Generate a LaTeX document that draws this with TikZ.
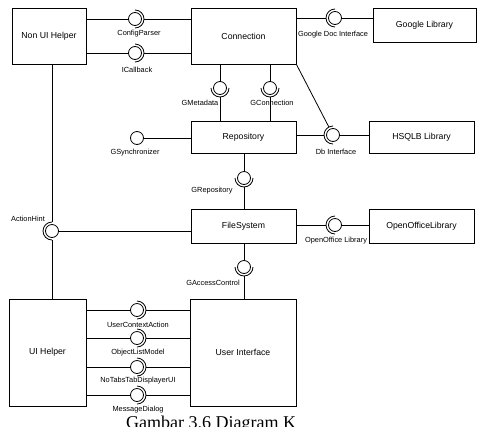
\documentclass[tikz,border=0pt]{standalone}
\usepackage{fontspec}
\setmainfont{Liberation Sans}
\newfontfamily\capfont{Liberation Serif}
\usetikzlibrary{calc}
\newcommand\sockarc[2]{\draw[wire] ($(#1)+({#2-90}:9)$) arc[start angle={#2-90}, end angle={#2+90}, radius=9];}
\begin{document}
\begin{tikzpicture}[x=1pt,y=-1pt,
  comp/.style={draw, line width=0.9pt, inner sep=0pt, font=\fontsize{8.7}{10}\selectfont},
  ball/.style={draw, circle, line width=0.8pt, minimum size=13pt, inner sep=0pt},
  sock/.style={circle, minimum size=18pt, inner sep=0pt},
  lbl/.style={font=\fontsize{7.4}{8}\selectfont, inner sep=0pt},
  wire/.style={line width=0.8pt}]
\path[use as bounding box, clip] (0,0) rectangle (478,426);
\fill[white] (0,0) rectangle (478,426);

% components
\node[comp, minimum width=74pt, minimum height=56pt] (nuh) at (49,36) {Non UI Helper};
\node[comp, minimum width=105pt, minimum height=56pt] (conn) at (243.5,36) {Connection};
\node[comp, minimum width=103pt, minimum height=34pt] (google) at (424.5,25) {Google Library};
\node[comp, minimum width=105pt, minimum height=32pt] (repo) at (243.5,137) {Repository};
\node[comp, minimum width=105pt, minimum height=32pt] (hsqlb) at (421.5,137) {HSQLB Library};
\node[comp, minimum width=105pt, minimum height=34pt] (fs) at (243.5,226) {FileSystem};
\node[comp, minimum width=105pt, minimum height=34pt] (ool) at (421.5,226) {OpenOfficeLibrary};
\node[comp, minimum width=77pt, minimum height=107pt] (uih) at (47.5,352.5) {UI Helper};
\node[comp, minimum width=106pt, minimum height=107pt] (ui) at (243,352.5) {User Interface};

% ConfigParser
\node[ball] (cpb) at (135,19) {}; \node[sock] (cps) at (135,19) {};
\sockarc{cps}{0}
\draw[wire] (nuh.east |- cpb) -- (cpb.west);
\draw[wire] (cps.east) -- (conn.west |- cps);
\node[lbl] (cpl) at (139,34) {ConfigParser};

% ICallback
\node[ball] (icb) at (135,53) {}; \node[sock] (ics) at (135,53) {};
\sockarc{ics}{0}
\draw[wire] (nuh.east |- icb) -- (icb.west);
\draw[wire] (ics.east) -- (conn.west |- ics);
\node[lbl] (icl) at (137,70) {ICallback};

% Google Doc Interface
\node[ball] (gdb) at (335,18) {}; \node[sock] (gds) at (335,18) {};
\sockarc{gds}{180}
\draw[wire] (conn.east |- gds) -- (gds.west);
\draw[wire] (gdb.east) -- (google.west |- gdb);
\node[lbl] (gdl) at (333,35) {Google Doc Interface};

% GMetadata
\node[ball] (gmb) at (220,88) {}; \node[sock] (gms) at (220,88) {};
\sockarc{gms}{90}
\draw[wire] (conn.south -| gmb) -- (gmb.north);
\draw[wire] (gms.south) -- (repo.north -| gms);
\node[lbl] (gml) at (200,103) {GMetadata};

% GConnection
\node[ball] (gcb) at (270,88) {}; \node[sock] (gcs) at (270,88) {};
\sockarc{gcs}{90}
\draw[wire] (conn.south -| gcb) -- (gcb.north);
\draw[wire] (gcs.south) -- (repo.north -| gcs);
\node[lbl] (gcl) at (272,103) {GConnection};

% Db Interface
\node[ball] (dbb) at (333,135) {}; \node[sock] (dbs) at (333,135) {};
\sockarc{dbs}{180}
\draw[wire] (repo.east |- dbs) -- (dbs.west);
\draw[wire] (dbb.east) -- (hsqlb.west |- dbb);
\draw[wire] (conn.south east) -- (dbs);
\node[lbl] (dbl) at (336,152) {Db Interface};

% GSynchronizer
\node[ball] (gsb) at (137,138) {};
\draw[wire] (gsb.east) -- (repo.west |- gsb);
\node[lbl] (gsl) at (135,153) {GSynchronizer};

% GRepository
\node[ball] (grb) at (244,178) {}; \node[sock] (grs) at (244,178) {};
\sockarc{grs}{90}
\draw[wire] (repo.south -| grb) -- (grb.north);
\draw[wire] (grs.south) -- (fs.north -| grs);
\node[lbl] (grl) at (212,191) {GRepository};

% ActionHint
\node[ball] (ahb) at (52,231) {}; \node[sock] (ahs) at (52,231) {};
\sockarc{ahs}{180}
\draw[wire] (nuh.south -| ahs) -- (ahs.north);
\draw[wire] (ahs.south) -- (uih.north -| ahs);
\draw[wire] (ahb.east) -- (fs.west |- ahb);
\node[lbl] (ahl) at (28,219) {ActionHint};

% OpenOffice Library
\node[ball] (oob) at (335,225) {}; \node[sock] (oos) at (335,225) {};
\sockarc{oos}{180}
\draw[wire] (fs.east |- oos) -- (oos.west);
\draw[wire] (oob.east) -- (ool.west |- oob);
\node[lbl] (ool2) at (336,241) {OpenOffice Library};

% GAccessControl
\node[ball] (gab) at (244,267) {}; \node[sock] (gas) at (244,267) {};
\sockarc{gas}{90}
\draw[wire] (fs.south -| gab) -- (gab.north);
\draw[wire] (gas.south) -- (ui.north -| gas);
\node[lbl] (gal) at (213,283) {GAccessControl};

% UI Helper <-> User Interface
\foreach \n/\yy/\t/\ly in {uca/310/UserContextAction/325, olm/338/ObjectListModel/353, ntd/367/NoTabsTabDisplayerUI/381, msd/395/MessageDialog/410}{
  \node[ball] (\n b) at (137,\yy) {}; \node[sock] (\n s) at (137,\yy) {};
  \sockarc{\n s}{0}
  \draw[wire] (uih.east |- \n b) -- (\n b.west);
  \draw[wire] (\n s.east) -- (ui.west |- \n s);
  \node[lbl] (\n l) at (138,\ly) {\t};
}

% caption (cut off at the bottom edge)
\node[font=\capfont\fontsize{18}{20}\selectfont, anchor=base west, inner sep=0pt] (cap) at (126,428) {Gambar 3.6 Diagram K};
\end{tikzpicture}
\end{document}
